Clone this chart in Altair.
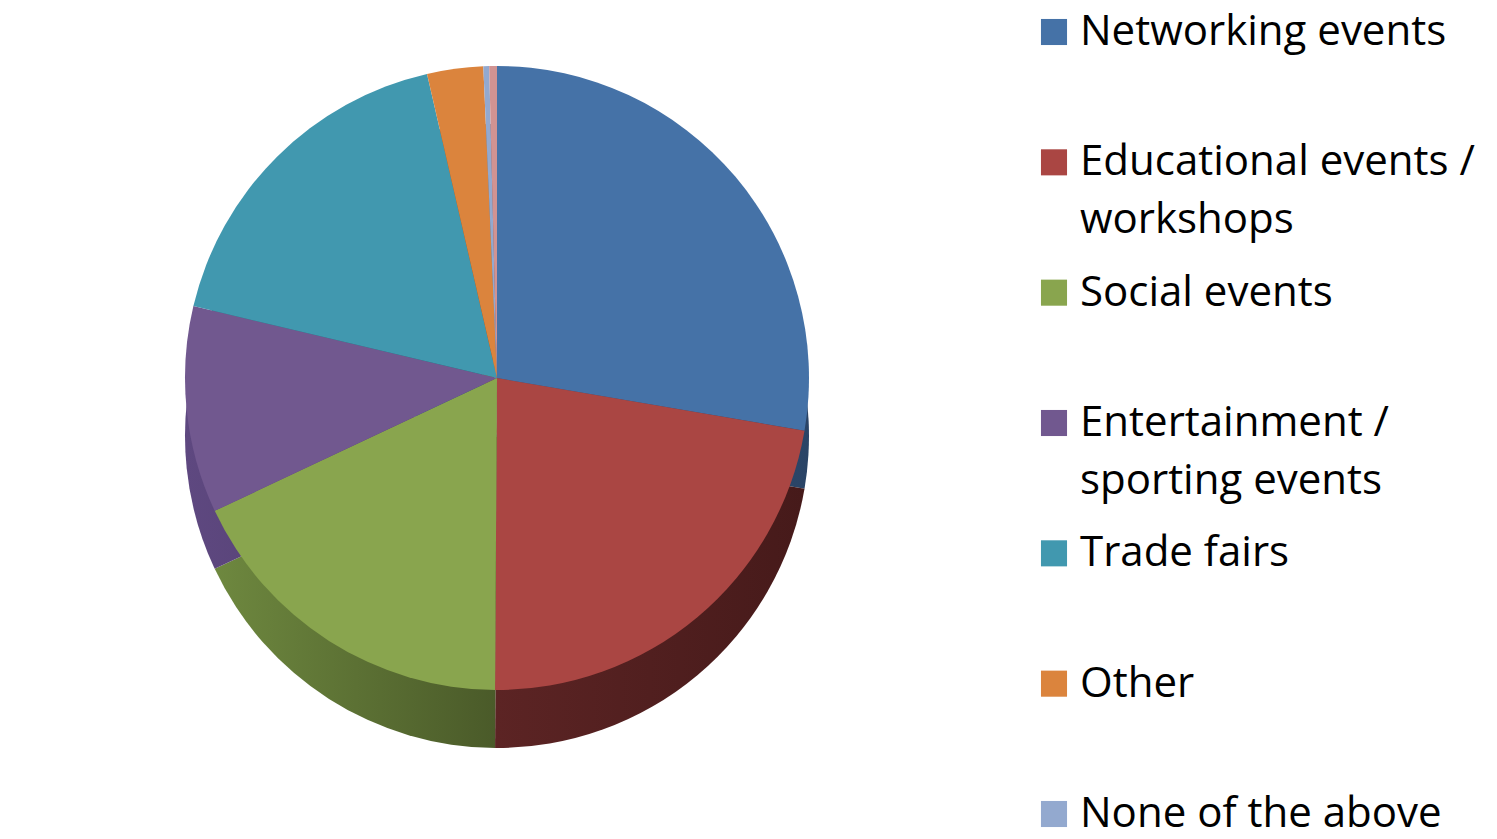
import altair as alt
import pandas as pd

# ---- data ----
categories = [
    "Networking events",
    "Educational events / workshops",
    "Social events",
    "Entertainment / sporting events",
    "Trade fairs",
    "Other",
    "None of the above",
    "Don't know",
]
shares = [27.7, 22.4, 17.9, 10.7, 17.7, 2.9, 0.3, 0.4]
top_colors = ["#4572A7", "#AA4643", "#89A54E", "#71588F", "#4198AF", "#DB843D", "#93A9CF", "#D19392"]
# side shading: (left colour, right colour) of the darker rim of each slice
side_left = ["#34557F", "#5C2424", "#6E883F", "#5E4880", "#2F6E7E", "#9E5E2A", "#6D7E9A", "#976A69"]
side_right = ["#2A4466", "#461A1A", "#4A5A29", "#4C3A66", "#245866", "#7E4A20", "#566478", "#7A5554"]

legend_categories = categories[:7]
legend_line1 = ["Networking events", "Educational events /", "Social events",
                "Entertainment /", "Trade fairs", "Other", "None of the above"]
legend_line2 = ["", "workshops", "", "sporting events", "", "", ""]

pie_df = pd.DataFrame({"category": categories, "share": shares, "order": list(range(len(categories)))})
leg_df = pd.DataFrame({"category": legend_categories, "line1": legend_line1,
                       "line2": legend_line2, "idx": list(range(len(legend_categories)))})

CX, CY, R, DEPTH = 489, 370, 312, 58
TAU = 6.283185307179586

top_scale = alt.Scale(domain=categories, range=top_colors)

base = alt.Chart(pie_df).transform_joinaggregate(
    total="sum(share)"
).transform_window(
    cum="sum(share)", sort=[alt.SortField("order")], frame=[None, 0]
).transform_calculate(
    start="(datum.cum - datum.share) / datum.total",
    end="datum.cum / datum.total",
)

theta_scale = alt.Scale(domain=[0, 1], range=[0, TAU])

layers = []
# side of the "3D" pie: a darker, shifted copy of every slice with horizontal shading
for cat, cl, cr in zip(categories, side_left, side_right):
    grad = alt.LinearGradient(
        gradient="linear",
        stops=[alt.GradientStop(color=cl, offset=0), alt.GradientStop(color=cr, offset=1)],
        x1=0, x2=1, y1=0, y2=0,
    )
    layers.append(
        base.transform_filter(alt.datum.category == cat).mark_arc(radius=R, fill=grad).encode(
            theta=alt.Theta("start:Q", scale=theta_scale),
            theta2="end:Q",
            x=alt.value(CX),
            y=alt.value(CY + DEPTH),
        )
    )

top = base.mark_arc(radius=R).encode(
    theta=alt.Theta("start:Q", scale=theta_scale),
    theta2="end:Q",
    color=alt.Color("category:N", scale=top_scale, legend=None),
    x=alt.value(CX),
    y=alt.value(CY),
)
layers.append(top)

ypos = alt.Y("idx:O", scale=alt.Scale(type="point", range=[24, 806], padding=0), axis=None)

squares = alt.Chart(leg_df).mark_square(size=680, opacity=1).encode(
    x=alt.value(1046),
    y=ypos,
    color=alt.Color("category:N", scale=top_scale, legend=None),
)
text1 = alt.Chart(leg_df).mark_text(align="left", baseline="middle", font="Open Sans",
                                    fontSize=42, color="black").encode(
    x=alt.value(1072), y=ypos, text="line1:N")
text2 = alt.Chart(leg_df).mark_text(align="left", baseline="middle", font="Open Sans",
                                    fontSize=42, color="black", dy=58).encode(
    x=alt.value(1072), y=ypos, text="line2:N")

layers += [squares, text1, text2]

chart = alt.layer(*layers).properties(
    width=1481, height=823, padding=0,
    autosize=alt.AutoSizeParams(type="none"),
).configure_view(stroke=None)

chart.save("out.html", embed_options={"renderer": "svg", "actions": False})
